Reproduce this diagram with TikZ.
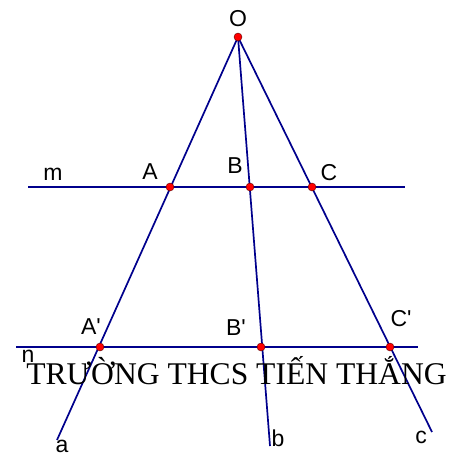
\documentclass[tikz,border=0pt]{standalone}
\usepackage{fontspec}
\setmainfont{Liberation Serif}
\newfontfamily\lblfont{Liberation Sans}
\begin{document}
\begin{tikzpicture}[x=1pt,y=-1pt,
  ln/.style={draw={rgb,255:red,0;green,0;blue,140}, line width=1.7pt},
  pt/.style={circle, fill=red, draw={rgb,255:red,90;green,0;blue,0}, line width=0.4pt, inner sep=0pt, minimum size=8pt},
  lbl/.style={font=\lblfont\fontsize{23}{23}\selectfont, inner sep=0pt}]
\useasboundingbox (0,0) rectangle (462,455);
% line ends
\coordinate (mL) at (28,187);
\coordinate (mR) at (405,187);
\coordinate (nL) at (16,347);
\coordinate (nR) at (418,347);
\coordinate (ae) at (57,440);
\coordinate (be) at (270,446);
\coordinate (ce) at (432,432);
% points
\coordinate (O) at (238,37);
\coordinate (A) at (170,187);
\coordinate (B) at (250,187);
\coordinate (C) at (312,187);
\coordinate (A1) at (100,347);
\coordinate (B1) at (261,347);
\coordinate (C1) at (390,347);
% lines
\draw[ln] (mL) -- (mR);
\draw[ln] (nL) -- (nR);
\draw[ln] (O) -- (ae);
\draw[ln] (O) -- (be);
\draw[ln] (O) -- (ce);
% text
\node[font=\fontsize{31.6}{31.6}\selectfont, inner sep=0pt, anchor=base] (t) at (236.5,384) {TRƯỜNG THCS TIẾN THẮNG};
% points
\foreach \p in {O,A,B,C,A1,B1,C1} \node[pt] (d\p) at (\p) {};
% labels
\node[lbl] (lO) at (238,19) {O};
\node[lbl] (lm) at (53,174) {m};
\node[lbl] (lA) at (150,172) {A};
\node[lbl] (lB) at (235,166) {B};
\node[lbl] (lC) at (329,173) {C};
\node[lbl] (lA1) at (91,327) {A'};
\node[lbl] (lB1) at (236,328) {B'};
\node[lbl] (lC1) at (401,319) {C'};
\node[lbl] (ln) at (28,356) {n};
\node[lbl] (la) at (62,446) {a};
\node[lbl] (lb) at (278,438) {b};
\node[lbl] (lc) at (421,437) {c};
\end{tikzpicture}
\end{document}
